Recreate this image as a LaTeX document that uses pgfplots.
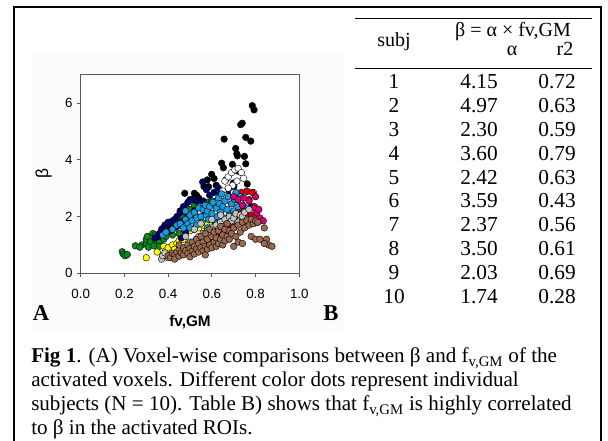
\documentclass[border=0pt]{standalone}
\usepackage{pgfplots}
\pgfplotsset{compat=1.18}
\usepackage{fontspec}
\setmainfont{Liberation Serif}
\newfontfamily\arial{Liberation Sans}

\definecolor{axgray}{HTML}{595959}
\definecolor{cGreen}{HTML}{0A8A1E}
\definecolor{cYellow}{HTML}{FFFF00}
\definecolor{cBlack}{HTML}{000000}
\definecolor{cNavy}{HTML}{000070}
\definecolor{cWhite}{HTML}{FFFFFF}
\definecolor{cRed}{HTML}{E00010}
\definecolor{cBlue}{HTML}{1A9CE0}
\definecolor{cMag}{HTML}{D6006F}
\definecolor{cGray}{HTML}{C4C4C4}
\definecolor{cBrown}{HTML}{9A6A50}

\pgfplotsset{dot/.style={only marks, mark=*, mark size=2.5pt,
  mark options={draw=black, line width=0.3pt, fill=#1}}}

\newcommand{\tabfont}{\fontsize{15}{18}\selectfont}
\newcommand{\valfont}{\fontsize{16}{19}\selectfont}
\newcommand{\capfont}{\fontsize{15.8}{19}\selectfont}

\begin{document}
\begin{tikzpicture}[x=0.75pt,y=-0.75pt]
\useasboundingbox (0,0) rectangle (608,441);
% chart area of the plot
\fill[gray!3] (33,53) rectangle (345,330);

\begin{axis}[
  at={(60.525pt,-204.975pt)}, anchor=south west,
  scale only axis, width=163.95pt, height=148.95pt,
  xmin=0, xmax=1, ymin=0, ymax=7,
  xtick={0,0.2,0.4,0.6,0.8,1}, ytick={0,2,4,6},
  xtick pos=left, ytick pos=left, tick align=outside,
  major tick length=2.5pt,
  axis line style={axgray, line width=0.6pt},
  tick style={axgray, line width=0.6pt},
  axis background/.style={fill=white},
  /pgf/number format/assume math mode=true,
  tick label style={font=\arial\fontsize{10}{12}\selectfont},
  xticklabel style={yshift=-6pt, /pgf/number format/.cd, fixed, fixed zerofill, precision=1},
  xlabel={fv,GM},
  xlabel style={font=\arial\bfseries\fontsize{11.5}{13}\selectfont, at={(axis description cs:0.5,-0.245)}, anchor=center},
  ylabel={β},
  ylabel style={font=\arial\fontsize{13}{15}\selectfont, at={(axis description cs:-0.17,0.5)}, anchor=center},
  clip=false,
]
% subject 9 (green)
\addplot[dot=cGreen] coordinates {
(0.19,0.76) (0.195,0.68) (0.203,0.62) (0.213,0.66) (0.25,0.97) (0.28,1.0) (0.27,0.92)
(0.30,1.05) (0.30,1.2) (0.305,1.3) (0.31,0.92) (0.32,1.12) (0.33,1.4) (0.335,0.97)
(0.34,1.2) (0.34,1.35) (0.35,1.3) (0.36,1.12) (0.36,0.95) (0.37,1.45) (0.375,1.58)
(0.38,1.2) (0.39,1.3) (0.40,1.5) (0.41,1.72) (0.42,1.35) (0.43,1.6) (0.445,1.85)
(0.45,1.4) (0.46,2.0) (0.48,2.35) (0.49,2.1) (0.50,2.25) (0.52,2.4) (0.53,2.0)
(0.545,2.55) (0.56,2.25) (0.58,2.5) (0.60,2.55) (0.62,2.35)};
% subject 7 (yellow)
\addplot[dot=cYellow] coordinates {
(0.30,0.55) (0.35,0.75) (0.38,0.95) (0.39,0.8) (0.40,0.9) (0.42,1.0) (0.43,0.85)
(0.44,1.05) (0.45,1.15) (0.46,1.3) (0.47,1.2) (0.48,1.4) (0.50,1.5) (0.52,1.55)
(0.54,1.6) (0.56,1.7) (0.58,1.75) (0.60,1.8) (0.62,1.85)};
% subject 2 (black)
\addplot[dot=cBlack] coordinates {
(0.785,5.91) (0.793,5.76) (0.732,5.24) (0.739,5.29) (0.656,4.73) (0.755,4.79)
(0.778,4.66) (0.709,4.40) (0.714,4.21) (0.717,4.14) (0.749,4.12) (0.755,3.86)
(0.645,3.88) (0.653,3.72) (0.694,3.84) (0.762,3.15) (0.698,3.18) (0.599,3.49)
(0.579,3.29) (0.610,3.34) (0.564,3.06) (0.476,2.82) (0.520,2.82) (0.540,2.65)
(0.585,3.05) (0.62,3.1) (0.455,2.2) (0.43,1.9) (0.41,1.62) (0.50,2.6) (0.53,2.75)
(0.70,3.05) (0.64,2.8) (0.45,1.75)};
% subject 1 (navy)
\addplot[dot=cNavy] coordinates {
(0.558,3.22) (0.575,2.95) (0.59,2.75) (0.61,2.85) (0.63,3.0) (0.665,3.3) (0.72,3.6)
(0.70,3.1) (0.74,2.4) (0.68,2.9) (0.64,2.6) (0.62,2.55) (0.60,2.45) (0.56,2.55)
(0.53,2.55) (0.51,2.6) (0.49,2.5) (0.47,2.35) (0.455,2.15) (0.44,2.0) (0.42,1.85)
(0.40,1.8) (0.385,1.7) (0.37,1.55) (0.355,1.3) (0.34,1.25) (0.36,1.4) (0.41,1.5)
(0.44,1.65) (0.47,1.85) (0.49,2.05) (0.52,2.2) (0.55,2.3) (0.57,2.1) (0.46,1.25)
(0.48,1.45) (0.75,2.2) (0.78,2.35)};
% subject 4 (white)
\addplot[dot=cWhite] coordinates {
(0.66,3.25) (0.675,3.4) (0.69,3.55) (0.705,3.65) (0.72,3.7) (0.735,3.55) (0.745,3.35)
(0.715,3.25) (0.695,3.1) (0.675,3.0) (0.65,2.9) (0.655,2.75) (0.64,2.65) (0.625,2.5)
(0.70,2.85) (0.79,2.85) (0.73,2.55) (0.60,2.3) (0.58,2.2) (0.76,2.9)};
% subject 8 (red)
\addplot[dot=cRed] coordinates {
(0.735,2.85) (0.76,2.88) (0.785,2.85) (0.77,2.6) (0.795,2.35) (0.745,2.3) (0.72,2.15)
(0.755,2.0) (0.69,2.45) (0.71,2.6) (0.78,2.05) (0.705,1.95)};
% subject 6 (sky blue)
\addplot[dot=cBlue] coordinates {
(0.375,1.35) (0.39,1.45) (0.42,1.55) (0.44,1.7) (0.455,1.75) (0.47,1.6) (0.48,1.9)
(0.49,1.75) (0.50,2.05) (0.51,1.85) (0.52,2.15) (0.53,1.95) (0.54,2.3) (0.55,2.0)
(0.555,1.8) (0.56,2.25) (0.57,2.4) (0.575,2.05) (0.58,2.2) (0.585,1.9) (0.59,2.35)
(0.60,2.1) (0.605,2.5) (0.61,1.85) (0.62,2.3) (0.625,2.0) (0.63,2.65) (0.635,2.45)
(0.64,2.15) (0.645,2.8) (0.65,2.35) (0.655,1.95) (0.66,2.55) (0.67,2.25) (0.675,2.7)
(0.68,2.05) (0.69,2.45) (0.70,2.2) (0.705,2.6) (0.71,2.85) (0.72,2.35) (0.73,2.7)
(0.74,2.1) (0.76,2.3) (0.53,1.7) (0.58,1.6) (0.62,1.75) (0.48,2.2) (0.50,1.6)};
% subject 5 (magenta)
\addplot[dot=cMag] coordinates {
(0.70,2.7) (0.72,2.6) (0.745,2.65) (0.77,2.55) (0.80,2.7) (0.79,2.3) (0.805,2.1)
(0.82,1.95) (0.835,1.85) (0.775,1.8) (0.75,1.9) (0.73,1.8) (0.715,1.7) (0.69,1.65)
(0.675,1.55) (0.66,1.45) (0.64,1.35) (0.62,1.25) (0.60,1.15) (0.63,1.6) (0.66,1.75)
(0.705,2.05) (0.76,2.2) (0.79,1.95) (0.755,1.7) (0.58,1.05) (0.645,1.1) (0.685,1.95)
(0.74,2.4) (0.81,1.8) (0.815,2.25)};
% subject 3 (gray)
\addplot[dot=cGray] coordinates {
(0.37,0.5) (0.375,0.62) (0.385,0.72) (0.40,0.55) (0.41,0.65) (0.43,0.6) (0.45,0.75)
(0.47,0.85) (0.49,0.95) (0.50,1.1) (0.52,1.0) (0.53,1.2) (0.54,1.3) (0.55,1.15)
(0.56,1.4) (0.57,1.25) (0.58,1.5) (0.59,1.35) (0.60,1.6) (0.61,1.45) (0.62,1.7)
(0.63,1.55) (0.64,1.8) (0.65,1.65) (0.66,1.9) (0.67,1.75) (0.68,2.0) (0.69,1.85)
(0.70,1.95) (0.71,2.1) (0.72,1.8) (0.73,2.05) (0.74,2.0) (0.75,2.15) (0.76,1.9)
(0.77,2.25) (0.55,1.75) (0.60,1.9) (0.64,2.05) (0.48,1.3) (0.52,1.55) (0.66,1.4) (0.70,1.6)};
% subject 10 (brown)
\addplot[dot=cBrown] coordinates {
(0.40,0.62) (0.41,0.55) (0.42,0.7) (0.43,0.65) (0.43,0.5) (0.44,0.75) (0.45,0.6)
(0.45,0.85) (0.45,1.0) (0.46,0.72) (0.47,0.65) (0.47,0.9) (0.48,0.8) (0.49,0.7)
(0.49,1.0) (0.50,0.58) (0.50,0.88) (0.51,0.78) (0.51,1.1) (0.52,0.68) (0.52,0.95)
(0.53,0.85) (0.53,1.2) (0.54,0.75) (0.54,1.05) (0.55,0.9) (0.55,1.3) (0.56,0.8)
(0.56,1.1) (0.57,0.95) (0.57,1.4) (0.57,0.65) (0.58,0.85) (0.58,1.2) (0.59,1.0)
(0.59,1.55) (0.60,0.9) (0.60,1.3) (0.61,1.1) (0.61,1.45) (0.62,0.95) (0.62,1.25)
(0.63,1.05) (0.63,1.5) (0.64,1.2) (0.64,1.65) (0.65,1.0) (0.65,1.35) (0.66,1.15)
(0.66,1.55) (0.67,1.3) (0.67,1.75) (0.68,1.2) (0.68,1.5) (0.69,1.4) (0.70,1.6)
(0.70,0.95) (0.71,1.3) (0.72,1.1) (0.72,1.7) (0.73,1.45) (0.74,1.05) (0.74,1.8)
(0.75,1.6) (0.76,1.85) (0.77,1.7) (0.78,1.3) (0.78,1.9) (0.79,1.75) (0.80,1.2)
(0.80,1.85) (0.81,1.8) (0.82,1.2) (0.84,1.6) (0.85,1.2) (0.86,1.0) (0.875,0.95) (0.84,1.05)};
\end{axis}

% panel letters
\node[anchor=base, font=\bfseries\fontsize{17}{20}\selectfont] at (41,321) {A};
\node[anchor=base, font=\bfseries\fontsize{17}{20}\selectfont] at (331,321) {B};

% table
\draw[line width=0.75pt] (355,18.3) -- (592,18.3);
\draw[line width=0.75pt] (355,68.5) -- (592,68.5);
\node[anchor=base, font=\tabfont] at (513,37) {β = α × fv,GM};
\node[anchor=base, font=\tabfont] at (394,47) {subj};
\node[anchor=base, font=\tabfont] at (512,56) {α};
\node[anchor=base, font=\tabfont] at (565,56) {r2};
\foreach \s/\a/\r [count=\i from 0] in {1/4.15/0.72, 2/4.97/0.63, 3/2.30/0.59, 4/3.60/0.79,
    5/2.42/0.63, 6/3.59/0.43, 7/2.37/0.56, 8/3.50/0.61, 9/2.03/0.69, 10/1.74/0.28} {
  \node[anchor=base, font=\valfont] at (394,89+23.8*\i) {\s};
  \node[anchor=base, font=\valfont] at (479,89+23.8*\i) {\a};
  \node[anchor=base, font=\valfont] at (557,89+23.8*\i) {\r};
}

% caption
\node[anchor=base west, inner sep=0pt, font=\capfont] at (31,363) {\textbf{Fig 1}. (A) Voxel-wise comparisons between β and f\textsubscript{v,GM} of the};
\node[anchor=base west, inner sep=0pt, font=\capfont] at (31,387) {activated voxels. Different color dots represent individual};
\node[anchor=base west, inner sep=0pt, font=\capfont] at (31,411) {subjects (N = 10). Table B) shows that f\textsubscript{v,GM} is highly correlated};
\node[anchor=base west, inner sep=0pt, font=\capfont] at (31,435) {to β in the activated ROIs.};

% frame
\draw[line width=1.5pt] (14,441) -- (14,7) -- (601,7) -- (601,441);
\end{tikzpicture}
\end{document}
